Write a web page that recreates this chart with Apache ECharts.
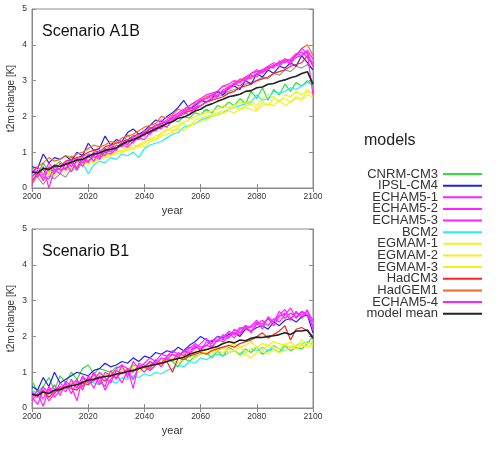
<!DOCTYPE html>
<html>
<head>
<meta charset="utf-8">
<script src="https://cdn.jsdelivr.net/npm/echarts@6/dist/echarts.min.js"></script>
<style>html,body{margin:0;padding:0;background:#fff}#c{width:500px;height:449px}</style>
</head>
<body>
<div id="c"></div>
<script>
const years = [2000,2002,2004,2006,2008,2010,2012,2014,2016,2018,2020,2022,2024,2026,2028,2030,2032,2034,2036,2038,2040,2042,2044,2046,2048,2050,2052,2054,2056,2058,2060,2062,2064,2066,2068,2070,2072,2074,2076,2078,2080,2082,2084,2086,2088,2090,2092,2094,2096,2098,2100];
const xTicks = [2000,2020,2040,2060,2080,2100];
const yTicks = [0,1,2,3,4,5];
const modelNames = ["CNRM-CM3","IPSL-CM4","ECHAM5-1","ECHAM5-2","ECHAM5-3","BCM2","EGMAM-1","EGMAM-2","EGMAM-3","HadCM3","HadGEM1","ECHAM5-4","model mean"];

// Scenario A1B
const a1b_CNRM = [0.6,0.4,0.7,0.45,0.6,0.75,0.55,0.9,0.7,0.95,0.85,1.0,0.9,1.1,1.05,1.3,1.15,1.5,1.3,1.45,1.5,1.7,1.6,1.8,1.7,1.9,1.85,2.0,1.95,2.1,2.05,2.2,2.1,2.3,2.25,2.4,2.3,2.5,2.35,2.7,2.5,2.8,2.45,2.75,2.6,2.9,2.7,2.95,2.85,3.0,2.85];
const a1b_IPSL = [0.6,0.55,0.95,0.7,0.85,0.8,0.9,0.75,1.0,0.9,1.25,1.05,1.1,1.45,1.2,1.35,1.3,1.55,1.65,1.5,1.6,1.75,1.9,1.85,2.0,2.1,2.25,2.45,2.2,2.3,2.45,2.4,2.5,2.7,2.6,2.8,2.85,2.75,3.0,2.9,3.2,3.1,3.3,3.2,3.4,3.35,3.5,3.4,3.7,3.5,3.3];
const a1b_ECHAM1 = [0.3,0.5,0.2,0.6,0.4,0.7,0.5,0.8,0.55,0.9,0.7,1.0,0.85,1.1,1.0,1.2,1.15,1.35,1.25,1.5,1.45,1.7,1.6,1.9,1.8,2.0,2.05,2.15,2.2,2.35,2.4,2.5,2.55,2.7,2.65,2.85,2.9,2.95,3.05,3.1,3.2,3.25,3.3,3.45,3.4,3.55,3.5,3.65,3.7,3.85,3.6];
const a1b_ECHAM2 = [0.5,0.3,0.6,0.0,0.5,0.4,0.7,0.45,0.8,0.6,0.9,0.75,1.0,0.9,1.15,1.05,1.3,1.2,1.45,1.4,1.6,1.55,1.75,1.8,1.9,2.0,2.1,2.2,2.3,2.4,2.5,2.6,2.65,2.7,2.85,2.9,3.0,2.95,3.1,3.2,3.3,3.2,3.4,3.5,3.45,3.6,3.55,3.7,3.9,3.75,2.6];
const a1b_ECHAM3 = [0.4,0.6,0.35,0.7,0.5,0.55,0.75,0.6,0.85,0.7,0.95,0.9,1.05,1.0,1.2,1.1,1.25,1.3,1.4,1.35,1.55,1.5,1.7,1.65,1.85,1.95,2.0,2.1,2.25,2.2,2.45,2.5,2.6,2.55,2.75,2.8,2.9,3.05,3.0,3.2,3.25,3.3,3.4,3.35,3.55,3.5,3.6,3.75,3.8,3.65,3.5];
const a1b_BCM2 = [0.4,0.3,0.5,0.35,0.55,0.45,0.6,0.55,0.5,0.7,0.4,0.65,0.75,0.7,0.85,0.8,0.95,0.9,1.0,0.85,1.1,1.2,1.25,1.3,1.4,1.5,1.55,1.7,1.75,1.8,1.9,1.95,2.0,2.05,2.1,2.2,2.25,2.3,2.35,2.4,2.6,2.45,2.5,2.7,2.65,2.7,2.8,2.75,2.85,2.95,3.0];
const a1b_EGMAM1 = [0.3,0.4,0.45,0.35,0.5,0.55,0.6,0.5,0.7,0.65,0.75,0.8,0.85,0.9,0.95,1.0,1.05,1.15,1.1,1.2,1.3,1.35,1.45,1.5,1.6,1.7,1.75,1.8,1.7,1.9,1.95,2.0,2.05,2.1,2.15,2.2,2.25,2.2,2.3,2.35,2.2,2.4,2.3,2.5,2.45,2.5,2.4,2.55,2.5,2.7,2.65];
const a1b_EGMAM2 = [0.5,0.35,0.55,0.4,0.6,0.5,0.65,0.7,0.6,0.75,0.8,0.7,0.85,0.95,0.9,1.05,1.0,1.1,1.2,1.15,1.25,1.4,1.35,1.55,1.65,1.6,1.7,1.85,1.9,2.0,2.05,2.1,2.15,2.2,2.3,2.25,2.3,2.4,2.35,2.45,2.3,2.5,2.6,2.55,2.4,2.6,2.55,2.7,2.6,2.75,2.6];
const a1b_EGMAM3 = [0.2,0.3,0.25,0.45,0.35,0.5,0.45,0.6,0.55,0.7,0.65,0.75,0.8,0.85,0.9,0.95,1.0,1.05,1.1,1.2,1.15,1.3,1.35,1.45,1.5,1.55,1.65,1.6,1.75,1.8,1.85,1.9,2.0,2.05,2.1,2.15,2.1,2.2,2.25,2.2,2.15,2.3,2.35,2.3,2.45,2.3,2.4,2.5,2.45,2.6,2.55];
const a1b_HadCM3 = [0.2,0.4,0.55,0.5,0.65,0.6,0.75,0.8,0.85,0.9,1.0,1.05,1.0,1.15,1.2,1.25,1.3,1.35,1.45,1.5,1.55,1.65,1.75,1.8,1.85,1.95,2.0,2.1,2.15,2.2,2.3,2.4,2.45,2.5,2.55,2.65,2.7,2.8,2.85,2.9,3.0,3.05,3.1,3.2,3.25,3.3,3.4,3.45,3.5,3.7,3.4];
const a1b_HadGEM1 = [0.45,0.6,0.7,0.85,0.75,0.8,0.9,0.85,0.95,1.0,1.1,1.2,1.15,1.2,1.3,1.25,1.4,1.45,1.5,1.6,1.7,1.75,1.8,2.0,1.95,2.05,2.2,2.15,2.3,2.4,2.45,2.55,2.6,2.7,2.85,2.8,2.95,3.0,3.1,3.05,3.2,3.3,3.35,3.4,3.5,3.6,3.55,3.7,3.9,4.0,3.7];
const a1b_ECHAM4 = [0.1,0.4,0.3,0.25,0.6,0.5,0.55,0.7,0.5,0.8,0.75,0.9,0.8,1.0,0.95,1.1,1.2,1.15,1.3,1.4,1.35,1.55,1.6,1.75,1.7,1.9,2.0,2.1,2.05,2.25,2.3,2.4,2.5,2.6,2.7,2.75,2.9,2.85,3.0,3.15,3.1,3.3,3.35,3.4,3.5,3.6,3.45,3.75,3.7,3.8,3.4];
const a1b_gray = [0.5,0.3,0.1,0.35,0.25,0.4,0.3,0.55,0.6,0.7,0.75,0.85,0.9,1.0,1.05,1.1,1.2,1.25,1.35,1.4,1.5,1.6,1.65,1.75,1.8,1.9,2.0,2.05,2.15,2.2,2.3,2.4,2.45,2.55,2.6,2.7,2.75,2.8,2.9,2.95,3.0,3.1,3.05,3.2,3.15,3.3,3.25,3.4,3.35,3.45,3.3];
const a1b_mean = [0.45,0.42,0.55,0.52,0.62,0.6,0.66,0.72,0.78,0.8,0.88,0.95,0.98,1.05,1.08,1.12,1.22,1.3,1.35,1.42,1.5,1.58,1.65,1.72,1.8,1.85,1.95,1.98,2.05,2.15,2.2,2.3,2.35,2.42,2.48,2.55,2.58,2.62,2.7,2.72,2.8,2.82,2.9,2.92,2.98,3.02,3.08,3.12,3.2,3.25,2.9];

// Scenario B1
const b1_CNRM = [0.75,0.45,0.6,0.85,0.5,0.9,0.7,1.0,0.8,1.1,1.2,0.95,1.1,1.05,1.0,1.15,1.1,1.05,1.2,1.15,1.1,1.3,1.25,1.2,1.35,1.3,1.15,1.4,1.3,1.45,1.5,1.55,1.4,1.6,1.45,1.7,1.6,1.5,1.65,1.55,1.7,1.5,1.6,1.65,1.55,1.75,1.6,1.7,1.65,1.8,2.0];
const b1_IPSL = [0.6,0.5,0.85,0.6,1.0,0.7,0.8,0.9,1.0,0.95,0.9,1.05,1.1,1.25,1.15,1.2,1.3,1.25,1.4,1.3,1.45,1.4,1.55,1.5,1.6,1.55,1.7,1.6,1.75,1.85,2.0,1.9,1.85,2.0,1.95,2.05,2.1,2.0,2.2,2.15,2.25,2.3,2.2,2.4,2.3,2.45,2.5,2.4,2.55,2.6,2.1];
const b1_ECHAM1 = [0.3,0.1,0.5,0.2,0.4,0.6,0.45,0.8,0.55,0.9,0.7,0.95,0.65,1.0,0.9,1.1,1.2,0.85,1.3,1.1,1.25,1.4,1.3,1.5,1.45,1.6,1.5,1.55,1.7,1.65,1.8,1.95,1.7,1.9,2.0,2.1,1.95,2.2,2.3,2.1,2.35,2.45,2.3,2.5,2.4,2.6,2.8,2.5,2.7,2.6,2.4];
const b1_ECHAM2 = [0.2,0.4,0.05,0.55,0.3,0.5,0.7,0.4,0.75,0.6,0.85,0.55,0.9,0.5,0.8,0.95,0.7,1.05,0.8,1.15,1.0,1.2,1.3,1.15,1.4,1.3,1.55,1.45,1.65,1.8,1.7,1.75,1.9,1.85,2.05,1.95,2.2,2.1,2.3,2.25,2.4,2.35,2.5,2.3,2.55,2.65,2.45,2.7,2.5,2.75,2.2];
const b1_ECHAM3 = [0.45,0.3,0.6,0.4,0.65,0.35,0.75,0.6,0.2,0.85,0.7,1.0,0.75,0.6,1.05,0.8,1.2,1.1,0.55,1.25,1.2,1.1,1.35,1.25,1.45,1.5,1.4,1.6,1.55,1.75,1.6,1.85,1.8,2.0,1.9,2.15,2.05,2.25,2.2,2.3,2.45,2.2,2.55,2.4,2.7,2.5,2.65,2.55,2.7,2.6,2.3];
const b1_BCM2 = [0.5,0.4,0.55,0.45,0.5,0.6,0.55,0.7,0.65,0.6,0.75,0.7,0.65,0.8,0.75,0.7,0.85,0.8,0.9,0.85,0.95,0.9,1.0,0.95,1.05,1.1,1.2,1.15,1.3,1.25,1.4,1.35,1.45,1.5,1.45,1.55,1.6,1.5,1.55,1.65,1.6,1.7,1.6,1.75,1.65,1.6,1.7,1.75,1.8,1.85,1.8];
const b1_EGMAM1 = [0.3,0.4,0.35,0.5,0.45,0.55,0.6,0.65,0.6,0.7,0.8,0.75,0.85,0.9,0.85,0.95,1.0,1.05,1.1,1.0,1.15,1.2,1.25,1.2,1.3,1.35,1.25,1.4,1.45,1.4,1.5,1.55,1.5,1.6,1.55,1.65,1.6,1.7,1.55,1.65,1.7,1.6,1.75,1.7,1.65,1.8,1.7,1.75,1.8,1.7,1.75];
const b1_EGMAM2 = [0.25,0.35,0.4,0.3,0.5,0.45,0.55,0.65,0.7,0.6,0.75,0.85,0.8,0.9,1.0,0.95,1.05,1.1,1.0,1.15,1.1,1.2,1.3,1.25,1.35,1.3,1.4,1.5,1.45,1.55,1.6,1.5,1.65,1.6,1.7,1.55,1.6,1.45,1.5,1.4,1.55,1.6,1.5,1.65,1.55,1.6,1.7,1.65,1.75,1.7,1.8];
const b1_EGMAM3 = [0.35,0.3,0.45,0.5,0.4,0.6,0.55,0.7,0.75,0.65,0.8,0.9,0.95,0.85,0.95,1.05,1.1,1.0,1.15,1.2,1.1,1.25,1.2,1.35,1.3,1.4,1.45,1.35,1.5,1.6,1.55,1.65,1.6,1.7,1.65,1.75,1.8,1.7,1.75,1.85,1.7,1.8,1.75,1.85,1.8,1.75,1.85,1.7,1.9,1.8,1.85];
const b1_HadCM3 = [0.4,0.35,0.5,0.3,0.45,0.5,0.6,0.55,0.5,0.7,0.65,0.8,0.85,0.75,0.9,0.85,1.0,0.95,1.05,1.1,1.15,1.05,1.2,1.25,1.3,1.0,1.4,1.35,1.45,1.5,1.55,1.5,1.6,1.65,1.7,1.75,1.7,1.8,1.85,1.9,2.0,2.1,1.95,2.05,2.15,2.3,1.9,2.2,2.25,2.15,2.0];
const b1_ECHAM4 = [0.3,0.5,0.25,0.6,0.4,0.7,0.55,0.65,0.8,0.5,0.9,0.75,1.0,0.85,0.7,1.05,0.95,1.1,1.0,1.2,1.15,1.3,1.2,1.4,1.35,1.5,1.45,1.6,1.5,1.7,1.65,1.75,1.7,1.9,1.85,2.0,2.1,2.05,2.25,2.15,2.35,2.3,2.5,2.4,2.6,2.75,2.5,2.65,2.6,2.7,2.45];
const b1_mean = [0.38,0.35,0.45,0.4,0.5,0.52,0.58,0.62,0.65,0.72,0.78,0.8,0.85,0.88,0.9,0.95,0.98,1.02,1.05,1.1,1.15,1.18,1.22,1.25,1.3,1.35,1.38,1.42,1.5,1.55,1.6,1.63,1.68,1.72,1.8,1.85,1.82,1.9,1.88,1.95,1.98,1.97,2.0,2.02,2.05,2.1,2.05,2.15,2.15,2.18,1.95];

const colors = {
  "CNRM-CM3":"#33e033","IPSL-CM4":"#2020ee","ECHAM5-1":"#ff22ff","ECHAM5-2":"#ff22ff","ECHAM5-3":"#ff22ff",
  "BCM2":"#22eeff","EGMAM-1":"#f2f21a","EGMAM-2":"#f2f21a","EGMAM-3":"#f2f21a","HadCM3":"#ff2020",
  "HadGEM1":"#ff6426","ECHAM5-4":"#ff22ff","model mean":"#222222","other":"#9a9a9a"
};

const a1bSet = [["CNRM-CM3",a1b_CNRM],["other",a1b_gray],["BCM2",a1b_BCM2],["EGMAM-1",a1b_EGMAM1],["EGMAM-2",a1b_EGMAM2],["EGMAM-3",a1b_EGMAM3],["IPSL-CM4",a1b_IPSL],["HadCM3",a1b_HadCM3],["HadGEM1",a1b_HadGEM1],["ECHAM5-1",a1b_ECHAM1],["ECHAM5-2",a1b_ECHAM2],["ECHAM5-3",a1b_ECHAM3],["ECHAM5-4",a1b_ECHAM4],["model mean",a1b_mean]];
const b1Set = [["CNRM-CM3",b1_CNRM],["BCM2",b1_BCM2],["EGMAM-1",b1_EGMAM1],["EGMAM-2",b1_EGMAM2],["EGMAM-3",b1_EGMAM3],["IPSL-CM4",b1_IPSL],["HadCM3",b1_HadCM3],["ECHAM5-1",b1_ECHAM1],["ECHAM5-2",b1_ECHAM2],["ECHAM5-3",b1_ECHAM3],["ECHAM5-4",b1_ECHAM4],["model mean",b1_mean]];

const FONT = "Liberation Sans, Arial, sans-serif";
const frame = '#8a8a8a';

function mk(set, gi) {
  return set.map(([name, vals]) => ({
    name: name, type: 'line', xAxisIndex: gi*2, yAxisIndex: gi*2,
    data: vals.map((v,i)=>[years[i], v]),
    showSymbol: false, symbol: 'none', silent: true,
    lineStyle: {width: name === 'model mean' ? 1.6 : 1.2, color: colors[name]},
    itemStyle: {color: colors[name]},
    z: name === 'model mean' ? 5 : 2
  }));
}

const grids = [
  {left: 32, right: 187, top: 9, height: 179, show: true, borderColor: frame, borderWidth: 1, containLabel: false, outerBoundsMode: 'none'},
  {left: 32, right: 187, top: 229, height: 179, show: true, borderColor: frame, borderWidth: 1, containLabel: false, outerBoundsMode: 'none'}
];

const xAxes = [], yAxes = [];
[0,1].forEach(gi => {
  xAxes.push({
    gridIndex: gi, type: 'value', min: xTicks[0], max: xTicks[xTicks.length-1], interval: 20,
    name: 'year', nameLocation: 'middle', nameGap: 17, nameMoveOverlap: false,
    nameTextStyle: {fontFamily: FONT, fontSize: 11, color: '#333'},
    axisLine: {lineStyle: {color: frame}}, splitLine: {show: false},
    axisTick: {inside: true, length: 4, lineStyle: {color: frame}},
    axisLabel: {fontFamily: FONT, fontSize: 8.5, color: '#333', margin: 4, formatter: v => String(v)}
  });
  xAxes.push({
    gridIndex: gi, type: 'value', position: 'top', min: 2000, max: 2100, interval: 20,
    axisLine: {lineStyle: {color: frame}}, splitLine: {show: false},
    axisTick: {inside: true, length: 4, lineStyle: {color: frame}},
    axisLabel: {show: false}
  });
  yAxes.push({
    gridIndex: gi, type: 'value', min: yTicks[0], max: yTicks[yTicks.length-1], interval: 1,
    name: 't2m change [K]', nameLocation: 'middle', nameGap: 16, nameMoveOverlap: false,
    nameTextStyle: {fontFamily: FONT, fontSize: 10, color: '#333'},
    axisLine: {show: true, lineStyle: {color: frame}}, splitLine: {show: false},
    axisTick: {show: true, inside: true, length: 4, lineStyle: {color: frame}},
    axisLabel: {fontFamily: FONT, fontSize: 8.5, color: '#333', margin: 5}
  });
  yAxes.push({
    gridIndex: gi, type: 'value', position: 'right', min: 0, max: 5, interval: 1,
    axisLine: {show: true, lineStyle: {color: frame}}, splitLine: {show: false},
    axisTick: {show: true, inside: true, length: 4, lineStyle: {color: frame}},
    axisLabel: {show: false}
  });
});

const chart = echarts.init(document.getElementById('c'), null, {renderer: 'canvas'});
chart.setOption({
  animation: false,
  backgroundColor: '#fff',
  title: {text: 'models', left: 364, top: 133, padding: 0, textStyle: {fontFamily: FONT, fontSize: 16, fontWeight: 'normal', color: '#222'}},
  legend: {
    data: modelNames, orient: 'vertical', align: 'right', right: 18, top: 167.5, padding: 0,
    itemWidth: 39, itemHeight: 2, icon: 'rect', itemGap: -1.36, selectedMode: false,
    textStyle: {fontFamily: FONT, fontSize: 13, color: '#333'}
  },
  graphic: [
    {type: 'text', left: 42, top: 24, style: {text: 'Scenario A1B', font: '16px ' + FONT, fill: '#111'}},
    {type: 'text', left: 42, top: 244, style: {text: 'Scenario B1', font: '16px ' + FONT, fill: '#111'}}
  ],
  grid: grids,
  xAxis: xAxes,
  yAxis: yAxes,
  series: mk(a1bSet, 0).concat(mk(b1Set, 1))
});
</script>
</body>
</html>
